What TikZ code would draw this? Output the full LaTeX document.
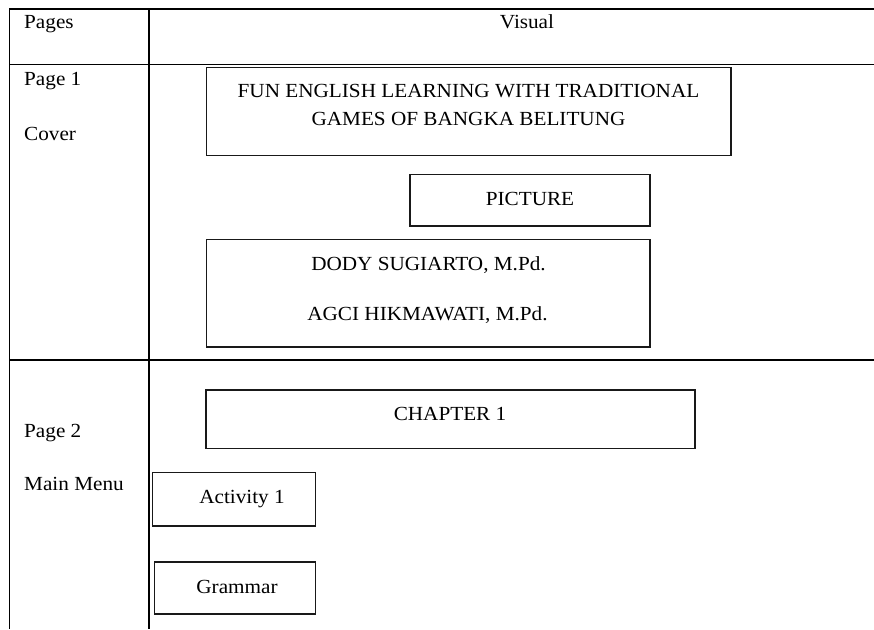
\documentclass[tikz,border=0pt]{standalone}
\usepackage{fontspec}
\setmainfont{Liberation Serif}[FakeStretch=1.06]
\usetikzlibrary{fit}
\begin{document}
\begin{tikzpicture}[x=1pt,y=-1pt,
  rule/.style={line width=1.8pt,black},
  box/.style={draw=black!90,line width=1.6pt,rectangle,inner sep=0pt},
  txt/.style={anchor=base,inner sep=0pt,font=\fontsize{20}{24}\selectfont},
  ltxt/.style={anchor=base west,inner sep=0pt,font=\fontsize{20}{24}\selectfont}]
\useasboundingbox[fill=white] (0,0) rectangle (874,629);
% table rules
\coordinate (tl) at (9,9);
\coordinate (tr) at (874,9);
\coordinate (hl) at (9,64.5);
\coordinate (hr) at (874,64.5);
\coordinate (rl) at (9,360);
\coordinate (rr) at (874,360);
\coordinate (lb) at (9.5,629);
\coordinate (lt) at (9.5,8.1);
\coordinate (ct) at (149,8.1);
\coordinate (cb) at (149,629);
\draw[rule] (tl) -- (tr);
\draw[rule] (hl) -- (hr);
\draw[rule] (rl) -- (rr);
\draw[rule] (lt) -- (lb);
\draw[rule] (ct) -- (cb);
% header
\node[ltxt] (pages) at (24,28) {Pages};
\node[txt] (visual) at (527,28) {Visual};
% page 1
\node[ltxt] (page1) at (24,85) {Page 1};
\node[ltxt] (cover) at (24,140) {Cover};
\node[box,fit={(206.5,67.5) (731,155.5)}] (titlebox) {};
\node[txt] (title1) at (468.5,97) {FUN ENGLISH LEARNING WITH TRADITIONAL};
\node[txt] (title2) at (468.5,125) {GAMES OF BANGKA BELITUNG};
\node[box,fit={(410,174.5) (650,226)}] (picbox) {};
\node[txt] (pic) at (530,205) {PICTURE};
\node[box,fit={(206.5,239.5) (650,347)}] (authbox) {};
\node[txt] (auth1) at (428.5,270) {DODY SUGIARTO, M.Pd.};
\node[txt] (auth2) at (427.5,320) {AGCI HIKMAWATI, M.Pd.};
% page 2
\node[ltxt] (page2) at (24,437) {Page 2};
\node[ltxt] (mainmenu) at (24,490) {Main Menu};
\node[box,fit={(206,390) (695,448.5)}] (chapbox) {};
\node[txt] (chap) at (450,420) {CHAPTER 1};
\node[box,fit={(152.5,472.5) (315.5,526)}] (actbox) {};
\node[txt] (act) at (242,503) {Activity 1};
\node[box,fit={(154.5,562) (315.5,614)}] (grambox) {};
\node[txt] (gram) at (237,593) {Grammar};
\end{tikzpicture}
\end{document}
